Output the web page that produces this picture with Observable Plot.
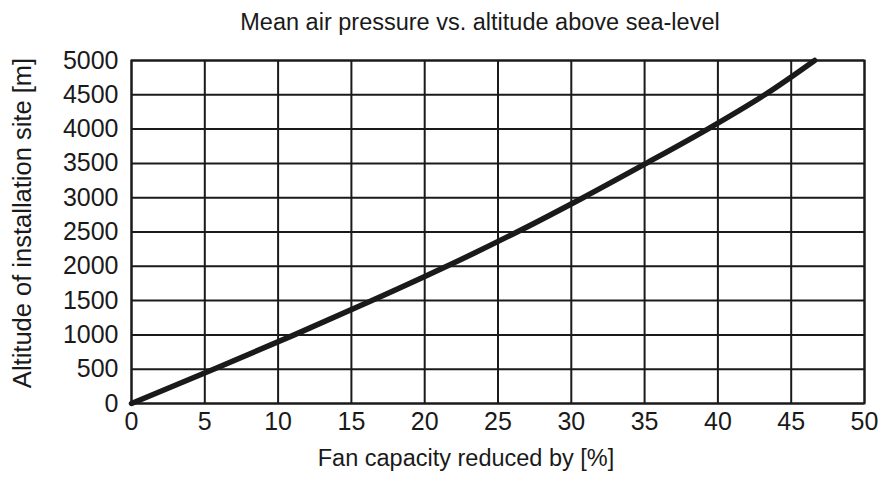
<!DOCTYPE html>
<html>
<head>
<meta charset="utf-8">
<script src="https://cdn.jsdelivr.net/npm/d3@7"></script>
<script src="https://cdn.jsdelivr.net/npm/@observablehq/plot@0.6"></script>
<style>
  html, body { margin: 0; padding: 0; background: #fff; }
  #title {
    width: 892px; height: 44px; line-height: 44px; box-sizing: border-box;
    padding-left: 68px; text-align: center;
    font-family: "Liberation Sans", Arial, sans-serif; font-size: 23.5px; color: #1a1a1a;
  }
</style>
</head>
<body>
<div id="title"></div>
<div id="chart"></div>
<script>
const titleText = "Mean air pressure vs. altitude above sea-level";
const xLabel = "Fan capacity reduced by [%]";
const yLabel = "Altitude of installation site [m]";

const xTicks = [0, 5, 10, 15, 20, 25, 30, 35, 40, 45, 50];
const yTicks = [0, 500, 1000, 1500, 2000, 2500, 3000, 3500, 4000, 4500, 5000];

// curve: altitude [m] vs. capacity reduction [%]
const altitude  = [0, 500, 1000, 1500, 2000, 2500, 3000, 3500, 4000, 4500, 5000];
const reduction = [0, 5.6, 11.1, 16.4, 21.5, 26.3, 30.8, 35.1, 39.3, 43.2, 46.6];

const data = altitude.map((a, i) => ({x: reduction[i], y: a}));

document.getElementById("title").textContent = titleText;

const ink = "#1a1a1a";

const chart = Plot.plot({
  width: 892,
  height: 435,
  marginTop: 16,
  marginBottom: 76,
  marginLeft: 131,
  marginRight: 28,
  style: {fontFamily: "Liberation Sans, Arial, sans-serif", fontSize: "25px", color: ink, background: "#fff"},
  x: {domain: [0, 50], ticks: xTicks},
  y: {domain: [0, 5000], ticks: yTicks},
  marks: [
    Plot.gridX(xTicks, {stroke: ink, strokeOpacity: 1, strokeWidth: 2}),
    Plot.gridY(yTicks, {stroke: ink, strokeOpacity: 1, strokeWidth: 2}),
    Plot.frame({stroke: ink, strokeWidth: 2}),
    Plot.axisX(xTicks, {tickSize: 0, tickPadding: 9, label: null, fontSize: 25, tickFormat: d => String(d)}),
    Plot.axisY(yTicks, {tickSize: 0, tickPadding: 13, label: null, fontSize: 25, tickFormat: d => String(d)}),
    Plot.line(data, {x: "x", y: "y", curve: "monotone-y", stroke: ink, strokeWidth: 5.5, strokeLinecap: "round"}),
    Plot.text([xLabel], {frameAnchor: "bottom", dx: -32, dy: 62, fontSize: 23.5, fill: ink}),
    Plot.text([yLabel], {frameAnchor: "left", textAnchor: "middle", rotate: -90, dx: -109, dy: -9, fontSize: 25.5, fill: ink})
  ]
});
document.getElementById("chart").appendChild(chart);
</script>
</body>
</html>
